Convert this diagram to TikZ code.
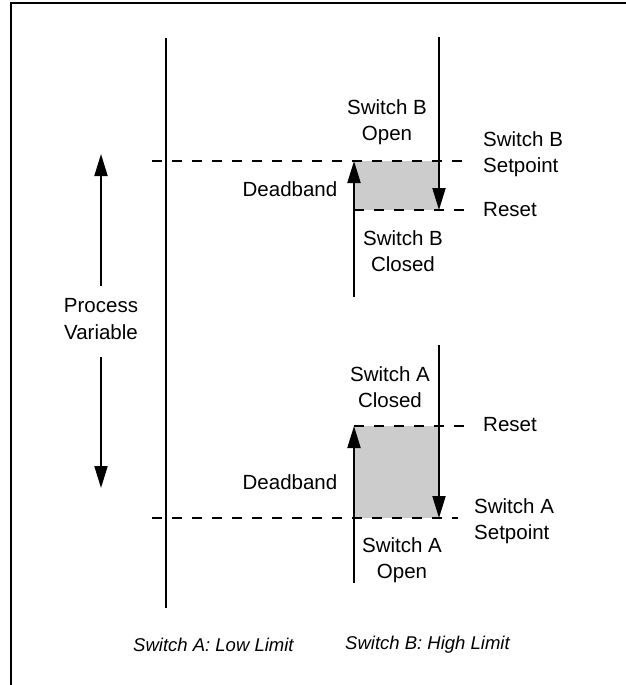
\documentclass[tikz,border=0pt]{standalone}
\usepackage{fontspec}
\setmainfont{Liberation Sans}
\usetikzlibrary{arrows.meta}
\begin{document}
\begin{tikzpicture}[x=1pt,y=-1pt,
  lbl/.style={inner sep=0pt,align=center,font=\fontsize{20.5}{26.5}\selectfont},
  lbll/.style={inner sep=0pt,align=left,font=\fontsize{20.5}{26.5}\selectfont,anchor=west},
  captext/.style={inner sep=0pt,anchor=west,font=\fontsize{18.5}{22}\selectfont\itshape},
  solidline/.style={line width=2pt},
  arr/.style={line width=2pt,-{Triangle[length=22pt,width=13pt]}},
  dashline/.style={line width=2pt,dash pattern=on 10pt off 10pt},
  band/.style={fill=black!20,draw=none}]
\useasboundingbox (0,0) rectangle (626,685);
\fill[white] (0,0) rectangle (626,685);
% frame (top and left only)
\draw[line width=2.5pt] (11,685) -- (11,3) -- (626,3);
% coordinates
\coordinate (mainT) at (166,38);
\coordinate (mainB) at (166,608);
\coordinate (spBL) at (152,161);
\coordinate (spBR) at (472,161);
\coordinate (rsBL) at (354,210);
\coordinate (rsBR) at (472,210);
\coordinate (rsAL) at (354,426);
\coordinate (rsAR) at (470,426);
\coordinate (spAL) at (152,518);
\coordinate (spAR) at (458,518);
\coordinate (bDownS) at (439,37);
\coordinate (bDownE) at (439,210);
\coordinate (bUpS) at (354,297);
\coordinate (bUpE) at (354,161);
\coordinate (aDownS) at (439,345);
\coordinate (aDownE) at (439,518);
\coordinate (aUpS) at (354,583);
\coordinate (aUpE) at (354,426);
% gray deadbands
\fill[band] (354,161) rectangle (439,210);
\fill[band] (354,426) rectangle (439,518);
% dashed lines
\draw[dashline] (spBL) -- (spBR);
\draw[dashline] (rsBL) -- (rsBR);
\draw[dashline] (rsAL) -- (rsAR);
\draw[dashline] (spAL) -- (spAR);
% main vertical line
\draw[solidline] (mainT) -- (mainB);
% process variable
\node[lbl] (pv) at (101,319) {Process\\Variable};
\coordinate (pvT) at (101,154);
\coordinate (pvB) at (101,488);
\draw[arr] (101,286) -- (pvT);
\draw[arr] (101,357) -- (pvB);
% arrows
\draw[arr] (bDownS) -- (bDownE);
\draw[arr] (bUpS) -- (bUpE);
\draw[arr] (aDownS) -- (aDownE);
\draw[arr] (aUpS) -- (aUpE);
% labels
\node[lbl] (bopen) at (387,122) {Switch B\\Open};
\node[lbll] (bsp) at (483,154) {Switch B\\Setpoint};
\node[lbll] (brs) at (483,210) {Reset};
\node[lbl] (bclosed) at (403,251) {Switch B\\Closed};
\node[lbl] (dbB) at (290,189) {Deadband};
\node[lbl] (aclosed) at (390,387) {Switch A\\Closed};
\node[lbll] (ars) at (483,425) {Reset};
\node[lbll] (asp) at (474,521) {Switch A\\Setpoint};
\node[lbl] (aopen) at (402,560) {Switch A\\Open};
\node[lbl] (dbA) at (290,482) {Deadband};
\node[captext] (capA) at (133,645) {Switch A: Low Limit};
\node[captext] (capB) at (345,645) {Switch B: High Limit};
\end{tikzpicture}
\end{document}
